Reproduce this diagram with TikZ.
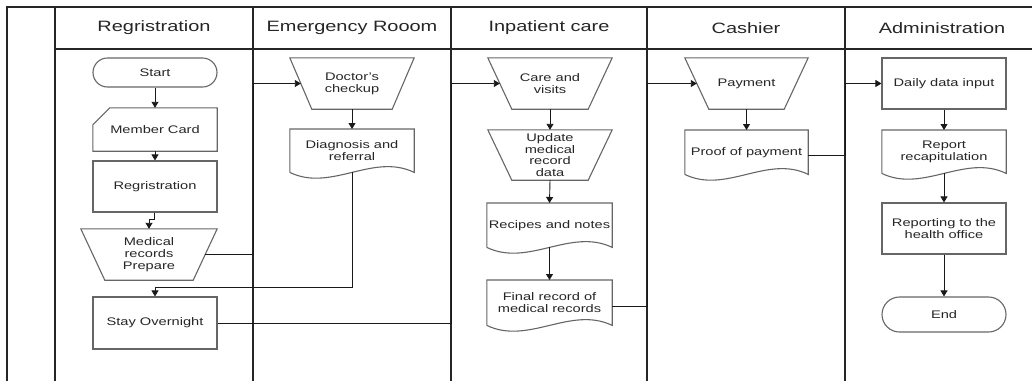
\documentclass[tikz,border=0pt]{standalone}
\usepackage{fontspec}
\setmainfont{Liberation Sans}[FakeStretch=1.33]
\usetikzlibrary{calc,arrows.meta}
\tikzset{
  x=1pt, y=-1pt,
  lane/.style={draw=black!85, line width=1.2pt},
  shp/.style={draw=black!60, line width=1.1pt},
  txt/.style={inner sep=0pt, align=center, font=\fontsize{11}{11.8}\selectfont, text=black!85},
  hdr/.style={inner sep=0pt, font=\fontsize{15}{17}\selectfont, text=black!85},
  conn/.style={draw=black!90, line width=0.9pt},
  arr/.style={conn, -{Triangle[width=7pt,length=6pt]}},
}
\newcommand\trapnode[7]{% name, cx, cy, w, h, inset, text
  \node[txt, minimum width=#4pt, minimum height=#5pt] (#1) at (#2,#3) {#7};
  \draw[shp] (#1.north west) -- (#1.north east) -- ([xshift=-#6pt]#1.south east) -- ([xshift=#6pt]#1.south west) -- cycle;
  \coordinate (#1-l) at ($(#1.west)+(#6/2,0)$);
  \coordinate (#1-r) at ($(#1.east)+(-#6/2,0)$);
}
\newcommand\docnode[6]{% name, cx, top, w, h, text
  \node[txt, minimum width=#4pt, minimum height=#5pt, anchor=north] (#1) at (#2,#3) {#6};
  \draw[shp] (#1.south west) -- (#1.north west) -- (#1.north east) -- (#1.south east)
    .. controls +(-#4/3,-20) and +(#4/3,20) .. (#1.south west);
}
\begin{document}
\begin{tikzpicture}
\useasboundingbox (0,0) rectangle (1032,381);
% lanes
\draw[lane] (7,381) -- (7,7) -- (1032,7);
\draw[lane] (55,49) -- (1032,49);
\coordinate (d1) at (55,7);
\coordinate (d2) at (253,7);
\coordinate (d3) at (451,7);
\coordinate (d4) at (647,7);
\coordinate (d5) at (845,7);
\foreach \c in {d1,d2,d3,d4,d5} \draw[lane] (\c) -- (\c |- 0,381);
\node[hdr] (h1) at (154,28) {Regristration};
\node[hdr] (h2) at (352,28) {Emergency Rooom};
\node[hdr] (h3) at (549,28) {Inpatient care};
\node[hdr] (h4) at (746,28) {Cashier};
\node[hdr] (h5) at (942,28) {Administration};

% Lane 1
\node[txt, shp, minimum width=124pt, minimum height=29pt, rounded corners=14.5pt] (start) at (155,72.5) {Start};
\node[txt, minimum width=124pt, minimum height=43pt] (card) at (155,129.5) {Member Card};
\draw[shp] ([yshift=-17pt]card.north west) -- ([xshift=17pt]card.north west) -- (card.north east) -- (card.south east) -- (card.south west) -- cycle;
\node[txt, shp, minimum width=124pt, minimum height=51pt] (reg) at (155,186.5) {Regristration};
\trapnode{medrec}{149}{254.5}{136}{51}{24}{Medical\\records\\Prepare}
\node[txt, shp, minimum width=124pt, minimum height=52pt] (stay) at (155,323) {Stay Overnight};

% Lane 2
\trapnode{doctor}{352}{83.5}{124}{51}{22}{Doctor's\\checkup}
\docnode{diag}{352}{129}{124}{43}{Diagnosis and\\referral}

% Lane 3
\trapnode{care}{550}{83.5}{124}{51}{24}{Care and\\visits}
\trapnode{update}{550}{155}{124}{50}{24}{Update\\medical\\record\\data}
\docnode{recipe}{549.5}{203}{125}{44}{Recipes and notes}
\docnode{final}{549.5}{280}{125}{45}{Final record of\\medical records}

% Lane 4
\trapnode{pay}{746.5}{83.5}{123}{51}{24}{Payment}
\docnode{proof}{746.5}{130}{123}{44}{Proof of payment}

% Lane 5
\node[txt, shp, minimum width=124pt, minimum height=51pt] (daily) at (944,83.5) {Daily data input};
\docnode{report}{944}{130}{124}{43}{Report\\recapitulation}
\node[txt, shp, minimum width=124pt, minimum height=51pt] (health) at (944,228.5) {Reporting to the\\health office};
\node[txt, shp, minimum width=124pt, minimum height=35pt, rounded corners=17.5pt] (end) at (944,314.5) {End};

% connectors
\draw[arr] (start) -- (card);
\draw[arr] (card) -- (reg);
\draw[arr] ([xshift=-1pt]reg.south) -- ++(0,7) -| (medrec.north);
\draw[arr] (medrec-r) -- (medrec-r -| d2) |- (doctor-l);
\draw[arr] (doctor.south) -- (diag.north);
\draw[arr] (diag.south) |- ($(stay.north)+(0,-9)$) -- (stay.north);
\draw[arr] (stay.east) -- (stay.east -| d3) |- (care-l);
\draw[arr] (care.south) -- (update.north);
\draw[arr] (update.south) -- (recipe.north);
\draw[arr] (recipe.south) -- (final.north);
\draw[arr] ([yshift=-4pt]final.east) -- ([yshift=-4pt]final.east -| d4) |- (pay-l);
\draw[arr] (pay.south) -- (proof.north);
\draw[arr] ([yshift=-3pt]proof.east) -- ([yshift=-3pt]proof.east -| d5) |- (daily.west);
\draw[arr] (daily.south) -- (report.north);
\draw[arr] (report.south) -- (health.north);
\draw[arr] (health.south) -- (end.north);
\end{tikzpicture}
\end{document}
